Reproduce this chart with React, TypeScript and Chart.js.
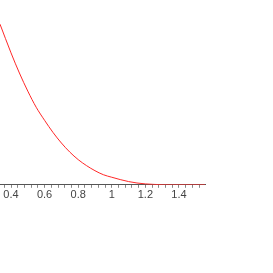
import React, { useEffect, useRef } from "react";
import { Chart, registerables } from "chart.js";

Chart.register(...registerables);

const xValues = [0.3345, 0.40, 0.45, 0.50, 0.55, 0.60, 0.65, 0.70, 0.75, 0.80, 0.85, 0.90, 0.95, 1.00, 1.05, 1.10, 1.15, 1.20, 1.25, 1.30, 1.35, 1.40, 1.48, 1.555];
const yValues = [1.595, 1.31, 1.11, 0.93, 0.77, 0.64, 0.52, 0.415, 0.325, 0.25, 0.19, 0.14, 0.10, 0.075, 0.052, 0.032, 0.018, 0.009, 0.004, 0.001, 0, 0, 0, 0];
const tickValues = [0.36, 0.4, 0.44, 0.48, 0.52, 0.56, 0.6, 0.64, 0.68, 0.72, 0.76, 0.8, 0.84, 0.88, 0.92, 0.96, 1.0, 1.04, 1.08, 1.12, 1.16, 1.2, 1.24, 1.28, 1.32, 1.36, 1.4, 1.44, 1.48, 1.52];
const labeledTicks = [0.4, 0.6, 0.8, 1.0, 1.2, 1.4];

export default function App() {
  const ref = useRef<HTMLCanvasElement>(null);
  useEffect(() => {
    if (!ref.current) return;
    const chart = new Chart(ref.current, {
      type: "line",
      data: {
        datasets: [
          {
            data: xValues.map((x, i) => ({ x, y: yValues[i] })),
            borderColor: "rgb(255,40,40)",
            borderWidth: 1,
            pointRadius: 0,
            cubicInterpolationMode: "monotone",
            fill: false,
          },
        ],
      },
      options: {
        responsive: false,
        animation: false,
        layout: { padding: { left: 0, right: 68, top: 0, bottom: 70 } },
        plugins: { legend: { display: false }, tooltip: { enabled: false } },
        scales: {
          x: {
            type: "linear",
            min: 0.3345,
            max: 1.555,
            afterBuildTicks: (scale: any) => {
              scale.ticks = tickValues.map((v) => ({ value: v }));
            },
            grid: { drawOnChartArea: false, drawTicks: true, tickLength: 3, color: "#888" },
            border: { color: "#555", width: 1 },
            ticks: {
              autoSkip: false,
              maxRotation: 0,
              padding: 1,
              color: "#444",
              font: { family: "Liberation Sans, Arial, sans-serif", size: 11 },
              callback: (v: any) => {
                const n = Number(v);
                const hit = labeledTicks.find((t) => Math.abs(t - n) < 1e-6);
                if (hit === undefined) return "";
                return String(Math.round(hit * 10) / 10);
              },
            },
          },
          y: { display: false, min: 0, max: 1.835 },
        },
      },
    });
    return () => chart.destroy();
  }, []);
  return (
    <div style={{ position: "fixed", left: 0, top: 0, width: 273, height: 273, background: "#fff" }}>
      <canvas ref={ref} width={273} height={273} style={{ display: "block" }} />
    </div>
  );
}
